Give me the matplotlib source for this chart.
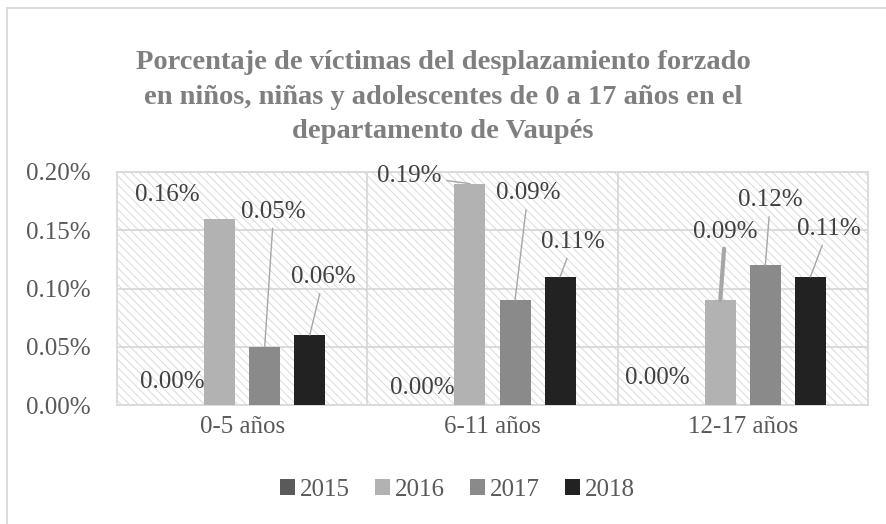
import numpy as np
import matplotlib.pyplot as plt
from matplotlib.patches import Rectangle

plt.rcParams['font.family'] = ['Liberation Serif', 'DejaVu Serif']
plt.rcParams['hatch.linewidth'] = 0.7

categories = ["0-5 años", "6-11 años", "12-17 años"]
years = ["2015", "2016", "2017", "2018"]
# porcentajes por año y grupo de edad
v2015 = [0.00, 0.00, 0.00]
v2016 = [0.16, 0.19, 0.09]
v2017 = [0.05, 0.09, 0.12]
v2018 = [0.06, 0.11, 0.11]
series = [v2015, v2016, v2017, v2018]
colors = ["#5a5a5a", "#b2b2b2", "#8a8a8a", "#222222"]

# label offsets (px) relative to bar top, and whether a leader line is drawn
label_off = [
    [(-2, 23, False), (-3, 17, False), (-18, 27, False)],
    [(-52, 24, False), (-61, 8, True), (5, 68, True)],
    [(9, 135, True), (13, 107, True), (5, 65, True)],
    [(14, 58, True), (13, 35, True), (18, 48, True)],
]

fig = plt.figure(figsize=(8.87, 5.24), dpi=100)
ax = fig.add_axes([117/887, 119/524, 751/887, 233/524])

x = np.arange(len(categories))
offs = [-0.27, -0.09, 0.09, 0.27]
w = 0.124

bg = Rectangle((0, 0), 1, 1, transform=ax.transAxes, facecolor='white',
               edgecolor='#dadada', hatch='\\\\\\\\', lw=0, zorder=0)
ax.add_patch(bg)

fs = 18
for i, (vals, c) in enumerate(zip(series, colors)):
    ax.bar(x + offs[i], vals, w, color=c, label=years[i], zorder=3)
    for j, v in enumerate(vals):
        dx, dy, lead = label_off[i][j]
        ap = None
        if lead:
            lw = 3.0 if (i == 1 and j == 2) else 1.0
            ap = dict(arrowstyle='-', color='#a6a6a6', lw=lw, shrinkA=2, shrinkB=0)
        ax.annotate(f"{v:.2f}%", xy=(x[j] + offs[i], v),
                    xytext=(dx*0.72, dy*0.72), textcoords='offset points',
                    ha='center', va='center', fontsize=fs, color='#404040',
                    arrowprops=ap, zorder=5)

ax.set_xlim(-0.5, 2.5)
ax.set_ylim(0, 0.20)
yt = [0, 0.05, 0.10, 0.15, 0.20]
ax.set_yticks(yt)
ax.set_yticklabels([f"{t:.2f}%" for t in yt])
ax.set_xticks(x)
ax.set_xticklabels(categories)
ax.set_xticks([0.5, 1.5], minor=True)
ax.tick_params(axis='both', which='both', length=0, labelsize=fs,
               labelcolor='#595959')
ax.tick_params(axis='y', pad=19)
ax.tick_params(axis='x', pad=8)
ax.grid(True, axis='y', color='#d9d9d9', lw=1.3, zorder=1)
ax.grid(True, axis='x', which='minor', color='#d9d9d9', lw=1.3, zorder=1)
ax.set_axisbelow(True)
for s in ax.spines.values():
    s.set_color('#d9d9d9')
    s.set_linewidth(1.3)

fig.text(443/887, 1 - 97/524,
         "Porcentaje de víctimas del desplazamiento forzado\n"
         "en niños, niñas y adolescentes de 0 a 17 años en el\n"
         "departamento de Vaupés",
         ha='center', va='center', fontsize=20.5, fontweight='bold',
         color='#7f7f7f', linespacing=1.52)

fig.legend(loc='center', bbox_to_anchor=(457/887, 1 - 490/524), ncol=4,
           frameon=False, fontsize=fs, handlelength=0.6, handleheight=0.6,
           handletextpad=0.2, columnspacing=1.0, labelcolor='#595959')

fig.add_artist(Rectangle((7/887, -0.1), 1.2, 0.1 + (524 - 8)/524,
                         transform=fig.transFigure, fill=False,
                         edgecolor='#d9d9d9', lw=1.3))

fig.savefig("out.png", dpi=100)
